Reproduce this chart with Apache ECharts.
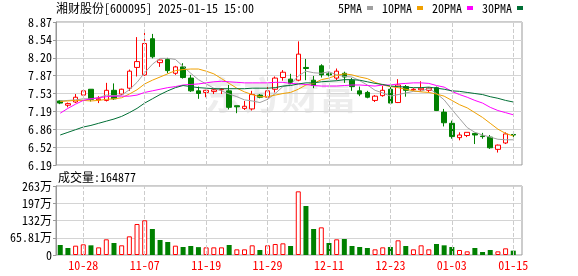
<!DOCTYPE html>
<html><head><meta charset="utf-8">
<script src="https://cdn.jsdelivr.net/npm/echarts@6/dist/echarts.min.js"></script>
<style>html,body{margin:0;padding:0;background:#fff}#c{width:578px;height:276px}</style>
</head><body><div id="c"></div>
<script>
const dates = ['10-23','10-24','10-25','10-28','10-29','10-30','10-31','11-01','11-04','11-05','11-06','11-07','11-08','11-11','11-12','11-13','11-14','11-15','11-18','11-19','11-20','11-21','11-22','11-25','11-26','11-27','11-28','11-29','12-02','12-03','12-04','12-05','12-06','12-09','12-10','12-11','12-12','12-13','12-16','12-17','12-18','12-19','12-20','12-23','12-24','12-25','12-26','12-27','12-30','12-31','01-02','01-03','01-06','01-07','01-08','01-09','01-10','01-13','01-14','01-15'];
const opens  = [7.39,7.31,7.37,7.50,7.61,7.41,7.40,7.59,7.52,7.63,8.02,7.88,8.56,8.11,8.17,7.91,8.03,7.82,7.58,7.55,7.57,7.60,7.58,7.30,7.25,7.24,7.50,7.46,7.61,7.83,7.80,7.78,8.02,7.78,8.05,7.90,7.82,7.91,7.78,7.58,7.55,7.40,7.49,7.61,7.36,7.66,7.60,7.60,7.59,7.64,7.18,6.97,6.70,6.74,6.78,6.73,6.71,6.48,6.60,6.76];
const closes = [7.35,7.34,7.46,7.58,7.42,7.43,7.59,7.43,7.61,7.95,8.13,8.47,8.22,8.16,7.96,8.03,7.83,7.58,7.53,7.59,7.60,7.61,7.27,7.28,7.29,7.51,7.46,7.58,7.82,7.93,7.72,8.27,8.00,7.68,7.88,7.88,7.95,7.84,7.66,7.52,7.46,7.48,7.59,7.35,7.69,7.59,7.61,7.63,7.63,7.21,6.98,6.72,6.75,6.80,6.75,6.72,6.51,6.56,6.77,6.75];
const lows   = [7.33,7.27,7.35,7.46,7.38,7.35,7.38,7.41,7.50,7.58,7.85,7.86,8.19,8.03,7.91,7.88,7.81,7.56,7.43,7.46,7.52,7.52,7.23,7.16,7.22,7.21,7.44,7.41,7.55,7.77,7.71,7.76,7.78,7.63,7.83,7.85,7.78,7.73,7.58,7.48,7.44,7.37,7.47,7.34,7.35,7.47,7.58,7.58,7.55,7.20,6.91,6.68,6.65,6.71,6.58,6.68,6.49,6.42,6.58,6.69];
const highs  = [7.40,7.36,7.52,7.61,7.61,7.48,7.73,7.72,7.62,7.98,8.59,8.67,8.65,8.17,8.20,8.05,8.10,7.88,7.66,7.60,7.62,7.63,7.69,7.30,7.39,7.58,7.52,7.72,7.85,7.97,7.90,8.51,8.18,7.86,8.08,7.93,8.00,7.94,7.82,7.66,7.58,7.50,7.67,7.66,7.80,7.69,7.63,7.76,7.65,7.66,7.24,7.02,6.80,6.80,6.79,6.79,6.75,6.57,6.80,6.81];
const volumes = [382000,267000,356000,407000,369000,292000,598000,458000,369000,712000,1183000,1323000,992000,572000,496000,356000,305000,343000,300000,292000,292000,292000,382000,216000,216000,369000,191000,369000,420000,445000,343000,2429000,1869000,992000,1055000,458000,598000,610000,343000,305000,267000,216000,292000,305000,560000,343000,216000,369000,216000,420000,369000,305000,191000,140000,267000,114000,191000,140000,254000,164877];
const volUp = [0,0,1,1,0,1,1,0,1,1,1,1,0,0,0,1,0,0,0,1,1,1,0,1,1,1,0,1,1,1,0,1,0,0,1,0,1,0,0,0,0,1,1,0,1,0,1,1,1,0,0,0,1,1,0,0,0,1,1,0];
const ma5  = [7.39,7.40,7.41,7.43,7.43,7.45,7.50,7.49,7.50,7.60,7.74,7.92,8.08,8.19,8.19,8.17,8.04,7.91,7.79,7.71,7.63,7.58,7.52,7.47,7.41,7.39,7.36,7.42,7.53,7.66,7.70,7.86,7.95,7.92,7.91,7.94,7.88,7.85,7.84,7.77,7.69,7.59,7.54,7.48,7.51,7.54,7.57,7.57,7.63,7.53,7.41,7.23,7.06,6.89,6.80,6.75,6.71,6.67,6.66,6.66];
const ma10 = [7.38,7.39,7.40,7.40,7.39,7.40,7.42,7.43,7.45,7.52,7.60,7.71,7.78,7.84,7.90,7.96,7.98,7.99,7.99,7.95,7.90,7.81,7.72,7.63,7.56,7.51,7.47,7.47,7.50,7.53,7.55,7.61,7.69,7.72,7.79,7.82,7.87,7.90,7.88,7.84,7.81,7.74,7.69,7.66,7.64,7.61,7.58,7.56,7.55,7.52,7.48,7.40,7.32,7.26,7.17,7.08,6.97,6.86,6.78,6.73];
const ma20 = [7.16,7.25,7.33,7.40,7.43,7.45,7.47,7.48,7.48,7.48,7.50,7.55,7.58,7.61,7.64,7.66,7.69,7.70,7.71,7.73,7.75,7.76,7.75,7.74,7.73,7.73,7.73,7.73,7.74,7.74,7.72,7.71,7.70,7.68,7.67,7.67,7.67,7.68,7.69,7.69,7.68,7.67,7.69,7.69,7.71,7.72,7.73,7.73,7.72,7.68,7.65,7.57,7.51,7.46,7.40,7.35,7.27,7.21,7.17,7.13];
const ma30 = [6.75,6.80,6.85,6.90,6.93,6.97,7.01,7.05,7.10,7.17,7.25,7.35,7.43,7.51,7.58,7.64,7.68,7.66,7.64,7.63,7.62,7.62,7.62,7.62,7.62,7.63,7.63,7.63,7.64,7.67,7.68,7.71,7.73,7.73,7.75,7.76,7.77,7.79,7.79,7.78,7.75,7.72,7.70,7.67,7.66,7.65,7.64,7.64,7.65,7.63,7.61,7.58,7.57,7.55,7.53,7.51,7.47,7.44,7.40,7.37];
const priceTickLabels = ['6.19','6.52','6.86','7.19','7.53','7.87','8.20','8.54','8.87'];
const volTickLabels = ['0','65.81万','132万','197万','263万'];
const labelDates = ['10-28','11-07','11-19','11-29','12-11','12-23','01-03','01-15'];
const titleText = '湘财股份[600095] 2025-01-15 15:00';
const volTitle = '成交量:164877';
const maNames = ['5PMA','10PMA','20PMA','30PMA'];

const FONT = '"Noto Sans Mono CJK SC","Noto Sans CJK SC","Liberation Mono",monospace';
const chart = echarts.init(document.getElementById('c'), null, {renderer:'canvas'});
const candleData = dates.map((d,i)=>[opens[i], closes[i], lows[i], highs[i]]);
const volData = volumes.map((v,i)=>({value:v, itemStyle: volUp[i]
  ? {color:'#ffffff', borderColor:'#ff0000', borderWidth:1}
  : {color:'#008000', borderColor:'#008000', borderWidth:0}}));
const vLines = {silent:true, symbol:'none', label:{show:false}, lineStyle:{type:'dashed', color:'#cccccc', width:1}, data: labelDates.map(d=>({xAxis:d}))};
const maColors = ['#a0a0a0','#f0a000','#ff00ff','#006f35'];
const maData = [ma5, ma10, ma20, ma30];
const maSeries = maNames.map((n,k)=>({name:n, type:'line', xAxisIndex:1, yAxisIndex:1, data:maData[k], showSymbol:false, symbol:'none', lineStyle:{width:1, color:maColors[k]}, itemStyle:{color:maColors[k]}, z:3}));
const hiddenX = g => ({gridIndex:g, type:'category', data:dates, show:false});
chart.setOption({
  animation:false,
  title:[
    {text:titleText, left:56, top:2, padding:0, textStyle:{fontFamily:FONT, fontSize:12, fontWeight:'normal', color:'#000'}},
    {text:volTitle, left:58, top:171, padding:0, textStyle:{fontFamily:FONT, fontSize:12, fontWeight:'normal', color:'#000'}}
  ],
  legend:{data:maNames, left:338, top:2, padding:0, align:'right', icon:'rect', itemWidth:6, itemHeight:4, itemGap:9, selectedMode:false,
    textStyle:{fontFamily:FONT, fontSize:12, color:'#000'}},
  graphic:[{type:'text', left:205, top:76, silent:true, z:-10, style:{text:'东方财富', font:'bold 38px "Noto Sans CJK SC"', fill:'rgba(0,0,0,0.07)'}}],
  grid:[
    {left:56, top:22, width:466, height:143, show:true, borderColor:'#999', borderWidth:1},
    {left:56.4, top:22, width:460.7, height:143},
    {left:56, top:186, width:466, height:69, show:true, borderColor:'#999', borderWidth:1},
    {left:56.4, top:186, width:460.7, height:69}
  ],
  xAxis:[hiddenX(0), hiddenX(1), hiddenX(2),
    {gridIndex:3, type:'category', data:dates, axisLine:{show:false}, axisTick:{show:false}, splitLine:{show:false},
     axisLabel:{interval:(i,v)=>labelDates.includes(v), color:'#ff0000', fontSize:12, fontFamily:FONT, margin:4}}],
  yAxis:[
    {gridIndex:0, type:'value', min:6.186, max:8.874, interval:0.336,
     axisLine:{show:true, lineStyle:{color:'#999'}}, axisTick:{show:true, length:3, lineStyle:{color:'#999'}},
     axisLabel:{formatter:(v,i)=>priceTickLabels[i], color:'#000', fontSize:12, fontFamily:FONT, margin:4},
     splitLine:{lineStyle:{color:'#d4d4d4'}}},
    {gridIndex:1, type:'value', min:6.186, max:8.874, show:false},
    {gridIndex:2, type:'value', min:0, max:2632400, interval:658100,
     axisLine:{show:true, lineStyle:{color:'#999'}}, axisTick:{show:true, length:3, lineStyle:{color:'#999'}},
     axisLabel:{formatter:(v,i)=>volTickLabels[i], color:'#000', fontSize:12, fontFamily:FONT, margin:4},
     splitLine:{lineStyle:{color:'#d4d4d4'}}},
    {gridIndex:3, type:'value', min:0, max:2632400, show:false}
  ],
  series:[
    {type:'candlestick', xAxisIndex:1, yAxisIndex:1, data:candleData, barWidth:5,
     itemStyle:{color:'#ffffff', color0:'#008000', borderColor:'#ff0000', borderColor0:'#008000', borderWidth:1},
     markLine:vLines, z:2},
    ...maSeries,
    {type:'bar', xAxisIndex:3, yAxisIndex:3, data:volData, barWidth:5, markLine:vLines}
  ]
});
</script></body></html>
